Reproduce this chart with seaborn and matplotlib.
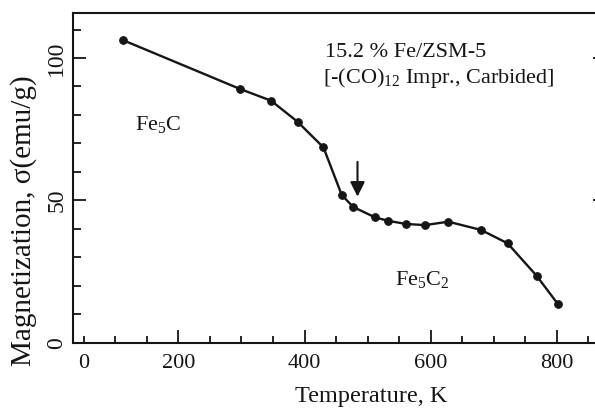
import numpy as np
import pandas as pd
import seaborn as sns
import matplotlib.pyplot as plt
from matplotlib.ticker import MultipleLocator, FixedLocator

# data
temperature = [113, 298, 347, 389, 430, 459, 477, 512, 533, 561, 591, 628, 680, 722, 768, 802]
magnetization = [106.2, 89.1, 85.0, 77.6, 68.6, 51.9, 47.7, 44.0, 42.8, 41.7, 41.3, 42.5, 39.6, 34.9, 23.5, 13.5]
x_ticks = [200, 400, 600, 800]
y_ticks = [0, 50, 100]
arrow_x = 484
arrow_from, arrow_to = 63.5, 51.3

df = pd.DataFrame({'T': temperature, 'M': magnetization})

sns.set_theme(style='ticks')
plt.rcParams['font.family'] = ['Liberation Serif', 'DejaVu Serif']
plt.rcParams['mathtext.fontset'] = 'custom'
plt.rcParams['mathtext.rm'] = 'Liberation Serif'
plt.rcParams['mathtext.it'] = 'Liberation Serif:italic'
ink = '#151515'

fig = plt.figure(figsize=(5.95, 4.09), dpi=100)
ax = fig.add_axes([0.1222, 0.1621, 0.8963, 0.8054])

sns.lineplot(data=df, x='T', y='M', marker='o', color=ink, linewidth=1.7,
             markersize=5.5, markeredgecolor=ink, sort=True, ax=ax)

ax.set_xlim(32.5, 878)
ax.set_ylim(0, 115.7)

ax.xaxis.set_major_locator(FixedLocator(x_ticks))
ax.xaxis.set_minor_locator(MultipleLocator(50))
ax.yaxis.set_major_locator(FixedLocator(y_ticks))
ax.yaxis.set_minor_locator(MultipleLocator(10))

for side in ax.spines.values():
    side.set_linewidth(1.5)
    side.set_color(ink)

ax.tick_params(axis='both', which='both', direction='in', color=ink, width=1.3)
ax.tick_params(axis='x', which='major', length=9.5, pad=8, labelsize=16, labelcolor=ink)
ax.tick_params(axis='x', which='minor', length=5)
ax.tick_params(axis='y', which='major', length=9.5, pad=4, labelsize=17, labelcolor=ink, right=True)
ax.tick_params(axis='y', which='minor', length=5.8, right=False)
plt.setp(ax.get_yticklabels(), rotation=90, va='center')

# "0" under the left end of the temperature axis
ax.text(0.0199, -8 * (100 / 72) / 329.4, '0', transform=ax.transAxes,
        ha='center', va='top', fontsize=16, color=ink)

ax.set_xlabel('Temperature, K', fontsize=17.5, color=ink)
ax.set_ylabel('Magnetization, σ(emu/g)', fontsize=21, color=ink)
ax.xaxis.set_label_coords(0.56, -0.13)
ax.yaxis.set_label_coords(-0.067, 0.37)

ax.text(432, 100.4, '15.2 % Fe/ZSM-5', fontsize=16, color=ink, ha='left', va='baseline')
ax.text(430, 91.1, r'[-(CO)$_{\mathrm{12}}$ Impr., Carbided]', fontsize=16, color=ink,
        ha='left', va='baseline')
ax.text(131, 74.7, r'Fe$_{\mathrm{5}}$C', fontsize=16, color=ink, ha='left', va='baseline')
ax.text(543, 20.2, r'Fe$_{\mathrm{5}}$C$_{\mathrm{2}}$', fontsize=16, color=ink,
        ha='left', va='baseline')

ax.annotate('', xy=(arrow_x, arrow_to), xytext=(arrow_x, arrow_from),
            arrowprops=dict(arrowstyle='-|>', lw=1.5, color=ink,
                            mutation_scale=22, shrinkA=0, shrinkB=0))

fig.savefig('out.png', dpi=100)
